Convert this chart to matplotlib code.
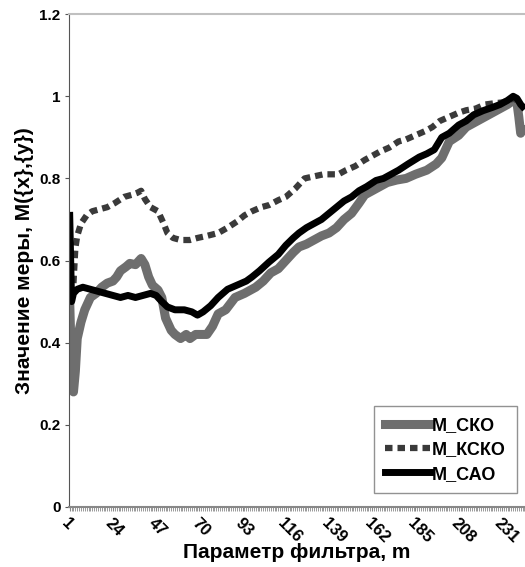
import matplotlib.pyplot as plt
from matplotlib.ticker import MultipleLocator, FixedLocator

plt.rcParams['font.family'] = ['Liberation Sans', 'DejaVu Sans']

# M_СКО (серая линия)
m_sko = [1, 2, 3, 4, 5, 7, 9, 12, 15, 18, 21, 24, 26, 28, 31, 33, 36, 39, 41, 43,
         45, 48, 50, 52, 55, 57, 60, 63, 65, 68, 71, 74, 77, 80, 84, 89, 94, 100,
         104, 108, 112, 116, 120, 123, 127, 131, 135, 139, 143, 147, 151, 155, 158,
         162, 166, 170, 175, 180, 185, 191, 196, 199, 203, 208, 212, 216, 220, 226,
         230, 234, 237, 239, 240, 241, 242]
v_sko = [0.50, 0.33, 0.28, 0.33, 0.41, 0.45, 0.48, 0.51, 0.52, 0.535, 0.545, 0.55,
         0.56, 0.575, 0.585, 0.593, 0.59, 0.605, 0.59, 0.56, 0.54, 0.528, 0.51, 0.46,
         0.43, 0.42, 0.41, 0.42, 0.41, 0.42, 0.42, 0.42, 0.44, 0.47, 0.48, 0.51, 0.52,
         0.535, 0.55, 0.57, 0.58, 0.60, 0.62, 0.633, 0.64, 0.65, 0.66, 0.667, 0.68,
         0.70, 0.715, 0.74, 0.76, 0.77, 0.78, 0.79, 0.796, 0.80, 0.81, 0.82, 0.835,
         0.85, 0.89, 0.905, 0.925, 0.935, 0.945, 0.96, 0.97, 0.98, 0.99, 0.985, 0.95,
         0.91, 0.92]

# M_КСКО (пунктир)
m_ksko = [3, 4, 5, 7, 10, 13, 17, 21, 25, 30, 34, 37, 39, 41, 44, 48, 51, 53, 56,
          60, 65, 69, 74, 80, 85, 90, 94, 98, 103, 107, 112, 116, 121, 126, 131, 136,
          140, 144, 148, 153, 158, 162, 166, 171, 176, 180, 185, 190, 194, 198, 203,
          208, 212, 217, 222, 227, 231, 235, 237, 239, 241]
v_ksko = [0.545, 0.63, 0.66, 0.69, 0.71, 0.72, 0.725, 0.73, 0.74, 0.755, 0.76, 0.765,
          0.77, 0.75, 0.73, 0.72, 0.69, 0.667, 0.655, 0.65, 0.65, 0.655, 0.66, 0.667,
          0.68, 0.695, 0.71, 0.72, 0.73, 0.735, 0.747, 0.755, 0.775, 0.80, 0.805, 0.81,
          0.81, 0.81, 0.82, 0.83, 0.845, 0.855, 0.865, 0.875, 0.89, 0.895, 0.905, 0.915,
          0.925, 0.94, 0.95, 0.96, 0.966, 0.97, 0.98, 0.983, 0.985, 0.99, 0.995, 0.99,
          0.98]

# M_САО (чёрная линия)
m_sao = [1, 2, 3, 5, 8, 12, 16, 20, 24, 28, 32, 36, 40, 44, 47, 50, 53, 57, 62, 66,
         69, 72, 76, 80, 85, 90, 95, 98, 102, 107, 112, 116, 120, 123, 127, 131, 135,
         139, 143, 147, 151, 155, 159, 164, 168, 172, 176, 181, 187, 191, 195, 199,
         203, 208, 212, 216, 221, 226, 230, 234, 237, 239, 241, 242]
v_sao = [0.71, 0.50, 0.52, 0.53, 0.535, 0.53, 0.525, 0.52, 0.515, 0.51, 0.515, 0.51,
         0.515, 0.52, 0.515, 0.50, 0.487, 0.48, 0.48, 0.475, 0.467, 0.475, 0.49, 0.51,
         0.53, 0.54, 0.55, 0.56, 0.575, 0.596, 0.615, 0.637, 0.655, 0.667, 0.68, 0.69,
         0.70, 0.715, 0.73, 0.745, 0.755, 0.77, 0.78, 0.795, 0.80, 0.81, 0.82, 0.835,
         0.852, 0.86, 0.87, 0.90, 0.91, 0.93, 0.94, 0.955, 0.965, 0.973, 0.98, 0.99,
         1.0, 0.995, 0.98, 0.975]

x_labels = [1, 24, 47, 70, 93, 116, 139, 162, 185, 208, 231]
y_ticks = [0, 0.2, 0.4, 0.6, 0.8, 1, 1.2]

fig = plt.figure(figsize=(5.25, 5.67), dpi=100)
ax = fig.add_axes([0.131, 0.106, 0.869, 0.869])

ax.plot(m_sko, v_sko, color='#6e6e6e', lw=6.5, solid_joinstyle='round', label='M_СКО')
ax.plot(m_ksko, v_ksko, color='#3a3a3a', lw=4.5, linestyle=(0, (1.2, 0.8)),
        dash_capstyle='butt', label='M_КСКО')
ax.plot(m_sao, v_sao, color='black', lw=5, solid_joinstyle='round', label='M_САО')

ax.set_xlim(0.5, 243.3)
ax.set_ylim(0, 1.2)
ax.xaxis.set_major_locator(FixedLocator(x_labels))
ax.xaxis.set_minor_locator(MultipleLocator(1))
ax.set_xticklabels([str(v) for v in x_labels], rotation=-45, ha='left', va='top',
                   rotation_mode='anchor', fontsize=12, fontweight='bold')
ax.set_yticks(y_ticks)
ax.set_yticklabels(['0', '0.2', '0.4', '0.6', '0.8', '1', '1.2'], fontsize=11, fontweight='bold')
ax.tick_params(axis='x', which='both', length=3, color='#888888', direction='out', pad=3)
ax.tick_params(axis='y', length=3, color='#555555', pad=3)

ax.spines['right'].set_visible(False)
ax.spines['top'].set_color('#c0c0c0')
ax.spines['top'].set_linewidth(1.5)
ax.spines['left'].set_color('#555555')
ax.spines['bottom'].set_color('#888888')
ax.spines['bottom'].set_linewidth(1.5)

ax.set_xlabel('Параметр фильтра, m', fontsize=15, fontweight='bold', labelpad=-2)
ax.set_ylabel('Значение меры, M({x},{y})', fontsize=15, fontweight='bold', labelpad=4)

leg = ax.legend(loc='lower right', bbox_to_anchor=(0.99, 0.02),
                prop={'weight': 'bold', 'size': 13}, frameon=True, fancybox=False,
                handlelength=2.5, handletextpad=0.1, borderpad=0.6, labelspacing=0.4,
                borderaxespad=0.2)
leg.get_frame().set_edgecolor('#777777')
leg.get_frame().set_linewidth(1)

fig.savefig('out.png', dpi=100)
